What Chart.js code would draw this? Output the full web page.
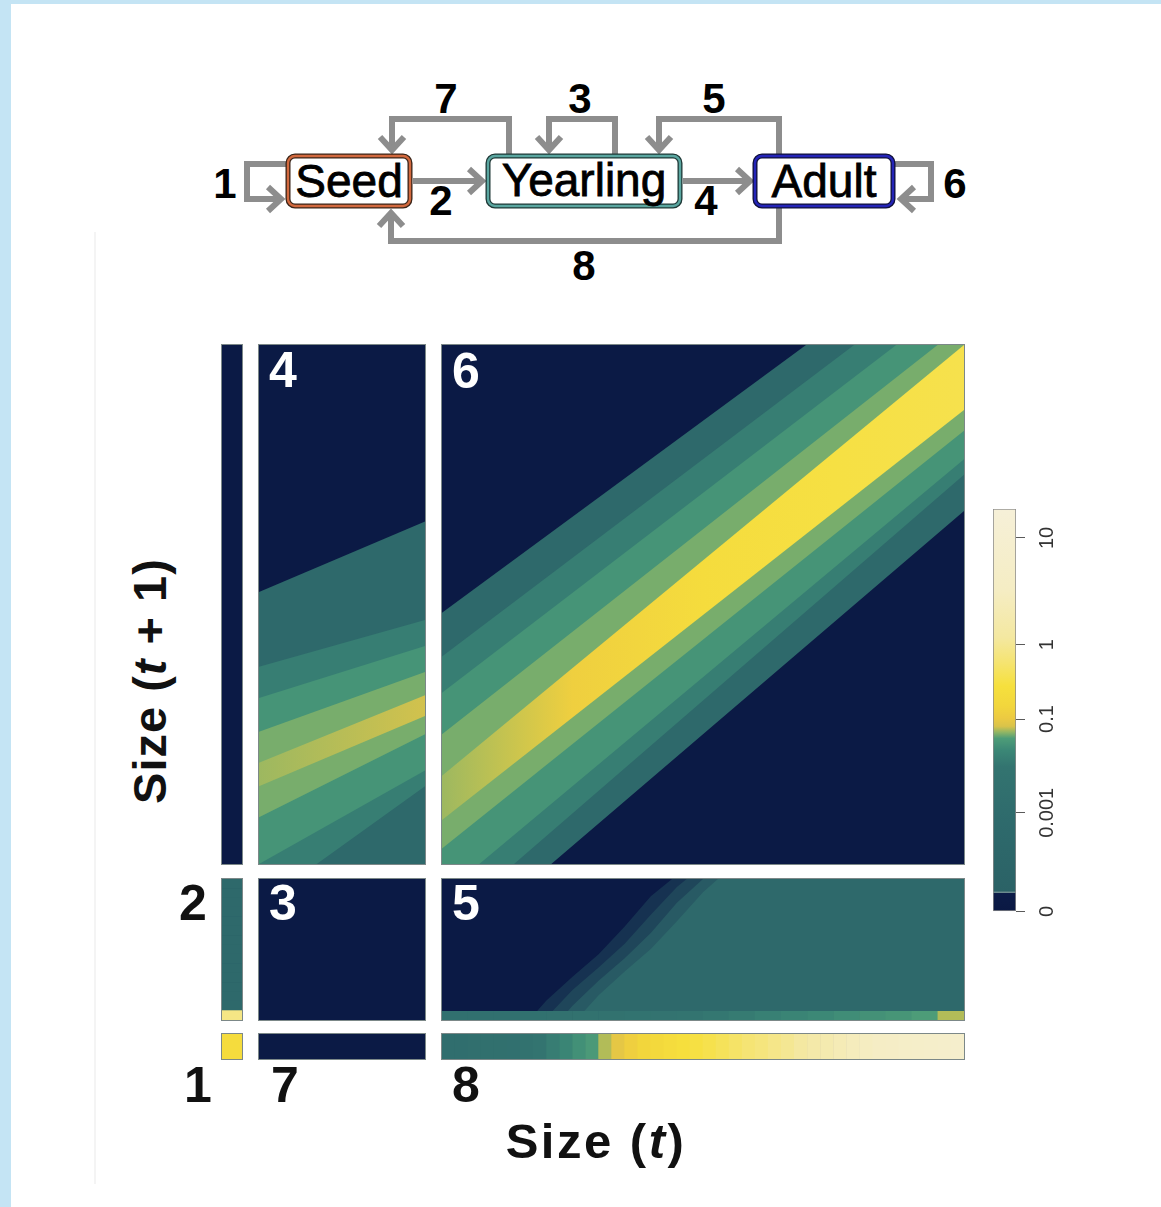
<!DOCTYPE html>
<html>
<head>
<meta charset="utf-8">
<title>IPM kernel by stage</title>
<script src="https://cdn.jsdelivr.net/npm/chart.js@4.4.1/dist/chart.umd.min.js"></script>
<style>
  html, body { margin:0; padding:0; background:#ffffff; }
  #page { position:relative; width:1161px; height:1207px; overflow:hidden; background:#ffffff;
          font-family:"Liberation Sans", Arial, Helvetica, sans-serif; }
  .frameL { position:absolute; left:0; top:0; width:11px; height:1207px; background:#c4e4f4; }
  .frameT { position:absolute; left:0; top:0; width:1161px; height:4px; background:#c4e4f4; }
  .faint { position:absolute; left:94px; top:232px; width:2px; height:952px; background:#f4f4f4; }
  .panel { position:absolute; box-sizing:border-box; border:1px solid #7c8888; background:#0b1a45; overflow:hidden; }
  .panel canvas { position:absolute; left:0; display:block; }
  .num { position:absolute; z-index:5; width:70px; height:60px; line-height:60px; text-align:center;
         font-size:50px; font-weight:bold; }
  .white { color:#ffffff; }
  .black { color:#111111; }
  .title { position:absolute; z-index:5; font-weight:bold; color:#111; text-align:center; white-space:nowrap; }
  #cb { position:absolute; left:993px; top:927px; transform-origin:0 0; transform:rotate(-90deg); }
</style>
</head>
<body>
<div id="page">
  <div class="frameL"></div>
  <div class="frameT"></div>
  <div class="faint"></div>

  <svg width="1161" height="300" style="position:absolute;left:0;top:0" xmlns="http://www.w3.org/2000/svg">
    <g fill="none" stroke="#8d8d8d" stroke-width="6" stroke-linejoin="miter" stroke-linecap="butt">
      <polyline points="509,154 509,119 392,119 392,148"/>
      <polyline points="380,137 392,150 404,137"/>
      <polyline points="615,154 615,119 549,119 549,148"/>
      <polyline points="537,137 549,150 561,137"/>
      <polyline points="779,154 779,119 659,119 659,148"/>
      <polyline points="647,137 659,150 671,137"/>
      <polyline points="779,208 779,241 391,241 391,215"/>
      <polyline points="379,226 391,213 403,226"/>
      <polyline points="286,164 247,164 247,199 279,199"/>
      <polyline points="268,187 281,199 268,211"/>
      <polyline points="413,181 480,181"/>
      <polyline points="469,169 482,181 469,193"/>
      <polyline points="683,181 748,181"/>
      <polyline points="737,169 750,181 737,193"/>
      <polyline points="894,164 931,164 931,199 903,199"/>
      <polyline points="914,187 901,199 914,211"/>
    </g>
    <g>
      <rect x="288" y="156" width="122" height="50" rx="7" fill="#ffffff" stroke="#3a2418" stroke-width="5"/>
      <rect x="288" y="156" width="122" height="50" rx="7" fill="none" stroke="#d2693e" stroke-width="2.4"/>
      <rect x="488" y="156" width="192" height="50" rx="7" fill="#ffffff" stroke="#1e3836" stroke-width="5"/>
      <rect x="488" y="156" width="192" height="50" rx="7" fill="none" stroke="#5aa6a0" stroke-width="2.4"/>
      <rect x="755" y="156" width="138" height="50" rx="7" fill="#ffffff" stroke="#10103a" stroke-width="5"/>
      <rect x="755" y="156" width="138" height="50" rx="7" fill="none" stroke="#2424b8" stroke-width="2.4"/>
    </g>
    <g font-family="Liberation Sans, Arial, Helvetica, sans-serif" font-size="46" fill="#000" stroke="#000" stroke-width="0.8" text-anchor="middle">
      <text x="349" y="197">Seed</text>
      <text x="584" y="196">Yearling</text>
      <text x="824" y="197">Adult</text>
    </g>
    <g font-family="Liberation Sans, Arial, Helvetica, sans-serif" font-size="42" font-weight="bold" fill="#000" text-anchor="middle">
      <text x="446" y="113">7</text>
      <text x="580" y="113">3</text>
      <text x="714" y="113">5</text>
      <text x="225" y="198">1</text>
      <text x="441" y="215">2</text>
      <text x="706" y="215">4</text>
      <text x="955" y="198">6</text>
      <text x="584" y="280">8</text>
    </g>
  </svg>

  <div class="title" style="left:446px; top:1111px; width:300px; height:60px; line-height:60px; font-size:49px; letter-spacing:2.5px;">Size (<i>t</i>)</div>
  <div class="title" style="left:0px; top:651px; width:300px; height:60px; line-height:60px; font-size:47px; letter-spacing:1px; transform:rotate(-90deg);">Size (<i>t</i> + 1)</div>

  <div class="num white" style="left:248px; top:340px;">4</div>
  <div class="num white" style="left:431px; top:341px;">6</div>
  <div class="num white" style="left:248px; top:873px;">3</div>
  <div class="num white" style="left:431px; top:873px;">5</div>
  <div class="num black" style="left:158px; top:873px;">2</div>
  <div class="num black" style="left:163px; top:1055px;">1</div>
  <div class="num black" style="left:250px; top:1055px;">7</div>
  <div class="num black" style="left:431px; top:1055px;">8</div>

  <canvas id="cb" width="430" height="80"></canvas>
</div>

<script>
// ================= DATA =================
// colour bar (kernel value) ticks and their positions along the bar (0-100)
const colorbarTickValues = [0, 0.001, 0.1, 1, 10];
const colorbarTickLabels = ['0', '0.001', '0.1', '1', '10'];
const colorbarTickPos    = [0, 24.5, 47.8, 66.3, 92.8];

// Panel 6 (adult -> adult): contour boundaries, v = size(t+1) fraction, read at u = size(t) = 0 and 1
const p6U           = [0, 1];
const p6LowerDark   = [-0.18, 0.68];
const p6LowerTeal   = [-0.12, 0.75];
const p6LowerTeal2  = [-0.06, 0.78];
const p6LowerGreen  = [0.03, 0.835];
const p6LowerLight  = [0.085, 0.875];
const p6UpperCore   = [0.17, 1.00];
const p6UpperLight  = [0.25, 1.04];
const p6UpperGreen  = [0.33, 1.10];
const p6UpperTeal2  = [0.40, 1.16];
const p6UpperTeal   = [0.484, 1.224];
// kernel value of the region just below each boundary (null = ridge, see p6CoreValues)
const p6RegionValues = [0, 3e-4, 0.015, 0.03, 0.047, null, 0.047, 0.03, 0.015, 3e-4];
const p6CoreU      = [0, 0.25, 0.5, 0.75, 1];
const p6CoreValues = [0.055, 0.12, 0.22, 0.30, 0.35];

// Panel 4 (yearling -> adult)
const p4U           = [0, 1];
const p4LowerTeal   = [-0.08, 0.15];
const p4LowerTeal2  = [0.0, 0.18];
const p4LowerGreen  = [0.09, 0.25];
const p4LowerLight  = [0.15, 0.285];
const p4UpperCore   = [0.195, 0.325];
const p4UpperLight  = [0.255, 0.37];
const p4UpperGreen  = [0.32, 0.42];
const p4UpperTeal2  = [0.38, 0.47];
const p4UpperTeal   = [0.524, 0.66];
const p4RegionValues = [3e-4, 0.015, 0.03, 0.047, null, 0.047, 0.03, 0.015, 3e-4];
const p4CoreValues = [0.055, 0.068];

// Panel 5 (adult -> yearling): soft edge of the zero region (upper left)
const p5U         = [0, 0.1, 0.2, 0.25, 0.3, 0.35, 0.4, 0.45, 0.5, 0.6, 1.0];
const p5EdgeTeal  = [-1.2, -0.8, -0.33, -0.10, 0.12, 0.30, 0.47, 0.68, 0.90, 1.25, 2.9];
const p5EdgeMid1  = [-1.05, -0.65, -0.19, 0.04, 0.23, 0.40, 0.59, 0.82, 1.0, 1.35, 2.95];
const p5EdgeMid2  = [-0.95, -0.55, -0.05, 0.16, 0.33, 0.51, 0.73, 0.94, 1.1, 1.45, 3.0];
const p5EdgeDark  = [-0.8, -0.37, 0.08, 0.26, 0.43, 0.64, 0.87, 1.03, 1.2, 1.6, 3.0];
const p5TealValue = 3e-4;
// Panel 5 bottom row (smallest yearling size), left -> right
const p5BottomRow = [0.0035, 0.0035, 0.0035, 0.004, 0.0045, 0.005, 0.006, 0.007, 0.008, 0.009,
                     0.011, 0.013, 0.016, 0.019, 0.022, 0.025, 0.028, 0.031, 0.038, 0.06];

// Panel 8 (adult -> seed), left -> right
const p8Row = [0.002, 0.002, 0.0025, 0.003, 0.003, 0.0035, 0.005, 0.009, 0.014, 0.02,
               0.027, 0.035, 0.06, 0.09, 0.12, 0.15, 0.18, 0.22, 0.26, 0.3,
               0.35, 0.42, 0.5, 0.6, 0.7, 0.85, 1.0, 1.2, 1.5, 1.8,
               2.2, 2.6, 3.0, 3.5, 4, 4.5, 5, 5.5, 6, 6.5];
// Panel 2 (seed -> yearling), top -> bottom
const p2Column = [3e-4, 3e-4, 3e-4, 3e-4, 3e-4, 3e-4, 3e-4, 3e-4, 3e-4, 3e-4, 3e-4, 3e-4, 3e-4, 3e-4, 0.8];
// Panel 1 (seed -> seed)
const p1Cell = [0.22];
// Zero panels
const pSeedAdult = [0];
const p3Cell = [0];
const p7Cell = [0];

// ================= COLOUR MAP (style) =================
const cmapStops = [
  [0, '#0a1843'], [4.6, '#0c1c48'], [5.0, '#2b6266'], [22, '#2e6a6c'], [36, '#337470'],
  [40, '#3b8776'], [43, '#4e9d78'], [44.5, '#8fb565'], [46, '#d9c34a'], [48, '#ecca42'],
  [51, '#f2d63c'], [56, '#f6e03d'], [62, '#f5e472'], [68, '#f4e8a0'], [80, '#f5edc4'], [100, '#f6f0d8']
];
const softEdgeColors = ['#285a64', '#1f465a', '#163251'];
const anchorsL = [-5].concat(colorbarTickValues.slice(1).map(Math.log10), [1.27]);
const anchorsP = [5.2].concat(colorbarTickPos.slice(1), [100]);

function interp(xs, ys, x) {
  if (x <= xs[0]) return ys[0];
  for (let i = 1; i < xs.length; i++) {
    if (x <= xs[i]) { const t = (x - xs[i-1]) / (xs[i] - xs[i-1]); return ys[i-1] + t * (ys[i] - ys[i-1]); }
  }
  return ys[ys.length - 1];
}
function posFor(v) { return v <= 0 ? 2 : interp(anchorsL, anchorsP, Math.log10(v)); }
function hex2rgb(h) { return [parseInt(h.slice(1,3),16), parseInt(h.slice(3,5),16), parseInt(h.slice(5,7),16)]; }
function colorAt(p) {
  for (let i = 1; i < cmapStops.length; i++) {
    if (p <= cmapStops[i][0]) {
      const t = (p - cmapStops[i-1][0]) / (cmapStops[i][0] - cmapStops[i-1][0]);
      const a = hex2rgb(cmapStops[i-1][1]), b = hex2rgb(cmapStops[i][1]);
      return 'rgb(' + a.map((c, k) => Math.round(c + t * (b[k] - c))).join(',') + ')';
    }
  }
  return cmapStops[cmapStops.length - 1][1];
}
function colorFor(v) { return colorAt(posFor(v)); }

// ================= CHART HELPERS =================
Chart.defaults.font.family = '"Liberation Sans", Arial, Helvetica, sans-serif';
const common = {
  responsive: false, animation: false, events: [], devicePixelRatio: 1,
  layout: { padding: 0 },
  plugins: { legend: { display: false }, tooltip: { enabled: false }, title: { display: false } }
};
const page = document.getElementById('page');
function panel(x, y, w, h) {
  const d = document.createElement('div');
  d.className = 'panel';
  Object.assign(d.style, { left: x + 'px', top: y + 'px', width: w + 'px', height: h + 'px' });
  page.appendChild(d);
  return d;
}
function canvasIn(div, w, h, top) {
  const c = document.createElement('canvas');
  c.width = w; c.height = h;
  c.style.top = (top || 0) + 'px';
  div.appendChild(c);
  return c;
}
// filled contour chart: boundaries given bottom -> top, each filled down to the axis start
function bandChart(canvas, u, lines, fills) {
  return new Chart(canvas, {
    type: 'line',
    data: {
      datasets: lines.map((arr, i) => ({
        data: u.map((x, j) => ({ x: x, y: arr[j] })),
        fill: 'start',
        backgroundColor: fills[i],
        borderColor: 'rgba(0,0,0,0)',
        borderWidth: 0, pointRadius: 0, tension: 0
      }))
    },
    options: Object.assign({}, common, {
      scales: {
        x: { type: 'linear', min: 0, max: 1, display: false },
        y: { type: 'linear', min: 0, max: 1, display: false }
      }
    })
  });
}
// row / column of heat-map cells
function cellChart(canvas, values, vertical) {
  return new Chart(canvas, {
    type: 'bar',
    data: {
      labels: values.map((_, i) => String(i)),
      datasets: [{
        data: values.map(() => [0, 1]),
        backgroundColor: values.map(colorFor),
        borderWidth: 0, barPercentage: 1, categoryPercentage: 1
      }]
    },
    options: Object.assign({}, common, {
      indexAxis: vertical ? 'y' : 'x',
      scales: vertical
        ? { y: { type: 'category', display: false }, x: { type: 'linear', min: 0, max: 1, display: false } }
        : { x: { type: 'category', display: false }, y: { type: 'linear', min: 0, max: 1, display: false } }
    })
  });
}
function gradientAlongU(u, values) {
  return function (ctx) {
    const ch = ctx.chart, ca = ch.chartArea;
    if (!ca) return colorFor(values[0]);
    const g = ch.ctx.createLinearGradient(ca.left, 0, ca.right, 0);
    u.forEach((x, i) => g.addColorStop(x, colorFor(values[i])));
    return g;
  };
}

// ================= PANELS =================
// column "Seed" / row "Adult" (all zero)
cellChart(canvasIn(panel(221, 344, 22, 521), 20, 519), pSeedAdult, true);

// panel 4
bandChart(canvasIn(panel(258, 344, 168, 521), 166, 519), p4U,
  [p4LowerTeal, p4LowerTeal2, p4LowerGreen, p4LowerLight, p4UpperCore, p4UpperLight, p4UpperGreen, p4UpperTeal2, p4UpperTeal],
  p4RegionValues.map(v => v === null ? gradientAlongU(p4U, p4CoreValues) : colorFor(v)));

// panel 6
bandChart(canvasIn(panel(441, 344, 524, 521), 522, 519), p6U,
  [p6LowerDark, p6LowerTeal, p6LowerTeal2, p6LowerGreen, p6LowerLight, p6UpperCore, p6UpperLight, p6UpperGreen, p6UpperTeal2, p6UpperTeal],
  p6RegionValues.map(v => v === null ? gradientAlongU(p6CoreU, p6CoreValues) : colorFor(v)));

// panel 2
cellChart(canvasIn(panel(221, 878, 22, 143), 20, 141), p2Column, true);
// panel 3
cellChart(canvasIn(panel(258, 878, 168, 143), 166, 141), p3Cell, true);
// panel 5
const d5 = panel(441, 878, 524, 143);
bandChart(canvasIn(d5, 522, 132, 0), p5U, [p5EdgeTeal, p5EdgeMid1, p5EdgeMid2, p5EdgeDark],
  [colorFor(p5TealValue)].concat(softEdgeColors));
cellChart(canvasIn(d5, 522, 9, 132), p5BottomRow, false);
// panel 1, 7, 8
cellChart(canvasIn(panel(221, 1033, 22, 27), 20, 25), p1Cell, false);
cellChart(canvasIn(panel(258, 1033, 168, 27), 166, 25), p7Cell, false);
cellChart(canvasIn(panel(441, 1033, 524, 27), 522, 25), p8Row, false);

// ================= COLOUR BAR =================
new Chart(document.getElementById('cb'), {
  type: 'bar',
  data: {
    labels: ['scale'],
    datasets: [{
      data: [[0, 100]],
      backgroundColor: function (ctx) {
        const ch = ctx.chart, ca = ch.chartArea;
        if (!ca) return '#2e6a6c';
        const g = ch.ctx.createLinearGradient(ca.left, 0, ca.right, 0);
        cmapStops.forEach(s => g.addColorStop(s[0] / 100, s[1]));
        g.addColorStop(0.0465, '#6b8a8e');
        g.addColorStop(0.049, '#6b8a8e');
        return g;
      },
      borderColor: '#8a8a8a', borderWidth: 1, borderSkipped: false,
      barPercentage: 1, categoryPercentage: 1
    }]
  },
  options: Object.assign({}, common, {
    indexAxis: 'y',
    layout: { padding: { left: 12, right: 12, top: 0, bottom: 0 } },
    scales: {
      y: { type: 'category', display: false },
      x: {
        type: 'linear', min: 0, max: 100, position: 'bottom',
        afterBuildTicks: s => { s.ticks = colorbarTickPos.map(v => ({ value: v })); },
        afterFit: s => { s.height = 57; },
        grid: { drawOnChartArea: false, drawTicks: true, tickLength: 9, color: '#5a5a5a', lineWidth: 1 },
        border: { display: false },
        ticks: {
          autoSkip: false, maxRotation: 0, minRotation: 0, padding: 10, color: '#333333',
          font: { size: 20 },
          callback: (v, i) => colorbarTickLabels[i]
        }
      }
    }
  })
});
</script>
</body>
</html>
